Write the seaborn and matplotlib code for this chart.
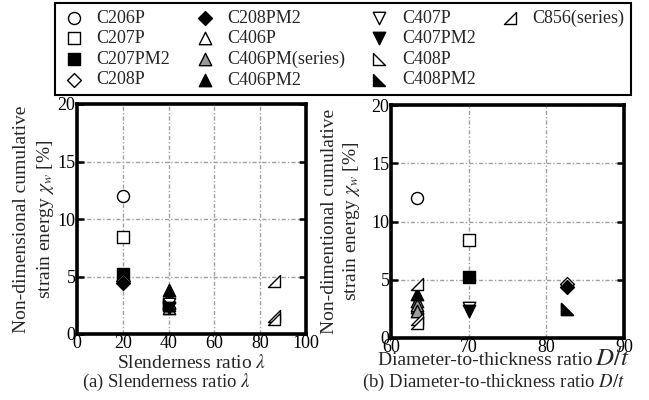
import numpy as np
import pandas as pd
import matplotlib
matplotlib.use("Agg")
import matplotlib.pyplot as plt
from matplotlib.path import Path
from matplotlib.lines import Line2D
import seaborn as sns

# ---- data -------------------------------------------------------------
specimens = ["C206P", "C207P", "C207PM2", "C208P", "C208PM2", "C406P",
             "C406PM(series)", "C406PM2", "C407P", "C407PM2", "C408P",
             "C408PM2", "C856(series)"]

# slenderness ratio for each specimen (one value per point)
slenderness = {
    "C206P": [20], "C207P": [20], "C207PM2": [20], "C208P": [20],
    "C208PM2": [20], "C406P": [40], "C406PM(series)": [40, 40, 40],
    "C406PM2": [40], "C407P": [40], "C407PM2": [40], "C408P": [40],
    "C408PM2": [40], "C856(series)": [86, 86, 86],
}
# diameter-to-thickness ratio
dt_ratio = {
    "C206P": [63.3], "C207P": [70.0], "C207PM2": [70.0], "C208P": [82.6],
    "C208PM2": [82.6], "C406P": [63.3], "C406PM(series)": [63.3, 63.3, 63.3],
    "C406PM2": [63.3], "C407P": [70.0], "C407PM2": [70.0], "C408P": [82.6],
    "C408PM2": [82.6], "C856(series)": [63.3, 63.3, 63.3],
}
# non-dimensional cumulative strain energy [%]
chi_w = {
    "C206P": [12.0], "C207P": [8.4], "C207PM2": [5.2], "C208P": [4.6],
    "C208PM2": [4.4], "C406P": [2.7], "C406PM(series)": [3.2, 2.8, 2.3],
    "C406PM2": [3.8], "C407P": [2.6], "C407PM2": [2.3], "C408P": [2.5],
    "C408PM2": [2.5], "C856(series)": [4.6, 1.6, 1.3],
}

# ---- marker styles ----------------------------------------------------
tri_br = Path([(-1, -1), (1, -1), (1, 1), (-1, -1)],
              [Path.MOVETO, Path.LINETO, Path.LINETO, Path.CLOSEPOLY])
tri_bl = Path([(-1, 1), (-1, -1), (1, -1), (-1, 1)],
              [Path.MOVETO, Path.LINETO, Path.LINETO, Path.CLOSEPOLY])

style = {
    "C206P": ("o", "white", 75),
    "C207P": ("s", "white", 75),
    "C207PM2": ("s", "black", 75),
    "C208P": ("D", "white", 50),
    "C208PM2": ("D", "black", 50),
    "C406P": ("^", "white", 80),
    "C406PM(series)": ("^", "#9a9a9a", 80),
    "C406PM2": ("^", "black", 80),
    "C407P": ("v", "white", 80),
    "C407PM2": ("v", "black", 80),
    "C408P": (tri_bl, "white", 70),
    "C408PM2": (tri_bl, "black", 70),
    "C856(series)": (tri_br, "white", 70),
}

rows = []
for sp in specimens:
    for lam, dt, c in zip(slenderness[sp], dt_ratio[sp], chi_w[sp]):
        rows.append({"specimen": sp, "lam": lam, "dt": dt, "chi": c})
df = pd.DataFrame(rows)

# ---- figure -----------------------------------------------------------
sns.set_style("white")
plt.rcParams["font.family"] = ["Liberation Serif", "DejaVu Serif"]
plt.rcParams["mathtext.fontset"] = "stix"

fig = plt.figure(figsize=(6.49, 4.0), dpi=100)
ax1 = fig.add_axes([77 / 649, 1 - 334 / 400, 229 / 649, 230 / 400])
ax2 = fig.add_axes([391 / 649, 1 - 338 / 400, 233 / 649, 233 / 400])

for ax, xcol in ((ax1, "lam"), (ax2, "dt")):
    for sp in specimens:
        sub = df[df["specimen"] == sp]
        mk, fc, sz = style[sp]
        sns.scatterplot(data=sub, x=xcol, y="chi", ax=ax, marker=mk,
                        color=fc, edgecolor="black", linewidth=1.0, s=sz,
                        label=sp, zorder=3, legend=False)
    if ax.get_legend() is not None:
        ax.get_legend().remove()

grid_kw = dict(color="#a0a0a0", linestyle=(0, (3, 1.5, 1, 1.5)), linewidth=1.0)

ax1.set_xlim(0, 100)
ax1.set_xticks([0, 20, 40, 60, 80, 100])
ax2.set_xlim(60, 90)
ax2.set_xticks([60, 70, 80, 90])
for ax in (ax1, ax2):
    ax.set_ylim(0, 20)
    ax.set_yticks([0, 5, 10, 15, 20])
    ax.grid(True, **grid_kw)
    ax.set_axisbelow(True)
    for s in ax.spines.values():
        s.set_visible(True)
        s.set_linewidth(2.6)
        s.set_color("black")
    ax.tick_params(axis="both", direction="in", length=5, width=1.8,
                   labelsize=13, pad=1, left=True, right=True,
                   bottom=False, top=False, colors="black")

ax1.set_xlabel(r"Slenderness ratio $\lambda$", fontsize=14, labelpad=1)
ax1.set_ylabel("Non-dimensional cumulative\nstrain energy $\\chi_w$ [%]",
               fontsize=14, labelpad=1, linespacing=1.35)
ax2.set_ylabel("Non-dimentional cumulative\nstrain energy $\\chi_w$ [%]",
               fontsize=14, labelpad=7, linespacing=1.2)

# right x label: plain words followed by a larger italic D/t
xl = ax2.set_xlabel("Diameter-to-thickness ratio", fontsize=14)
ax2.xaxis.set_label_coords(0.405, -0.06)
ax2.annotate(r"$D/t$", xy=(1, 0), xycoords=xl, xytext=(1.5, -0.5),
             textcoords="offset points", ha="left", va="bottom", fontsize=18)

fig.text(166 / 649, 1 - 382 / 400, r"(a) Slenderness ratio $\lambda$",
         ha="center", va="center", fontsize=13.5)
fig.text(494 / 649, 1 - 382 / 400, r"(b) Diameter-to-thickness ratio $D/t$",
         ha="center", va="center", fontsize=13.5)

handles, labels = ax1.get_legend_handles_labels()
blank = Line2D([], [], linestyle="none", marker="")
handles = handles + [blank] * 3
labels = labels + [""] * 3
leg = fig.legend(handles, labels, loc="upper left",
                 bbox_to_anchor=(55 / 649, 1 - 3 / 400), ncol=4,
                 frameon=True, fancybox=False, framealpha=1,
                 edgecolor="black", fontsize=13, handletextpad=0.55,
                 columnspacing=1.2, labelspacing=0.2, borderpad=0.35,
                 handlelength=1.4, borderaxespad=0)
leg.get_frame().set_linewidth(1.5)

fig.savefig("out.png", dpi=100)
